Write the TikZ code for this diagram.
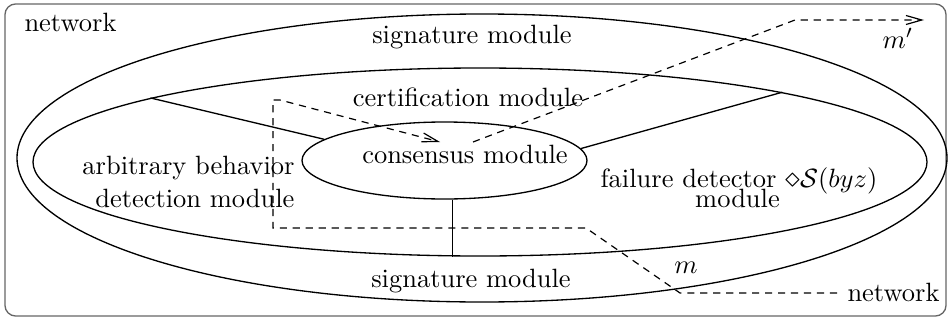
\documentclass[tikz,border=0pt]{standalone}
\usepackage{graphicx}
\usetikzlibrary{shapes.geometric,arrows.meta}
\begin{document}
\begin{tikzpicture}[x=0.378pt,y=-0.378pt,
  ell/.style={draw,ellipse,inner sep=0pt,line width=0.5pt},
  lbl/.style={inner sep=0pt,anchor=base,font=\fontsize{10}{12}\selectfont},
  msg/.style={dash pattern=on 2.7pt off 2.2pt,line width=0.45pt},
  tipbarb/.style={-{Straight Barb[length=6pt,width=3.4pt,line width=0.45pt]}},
  sep/.style={line width=0.5pt}]
\useasboundingbox (0,0) rectangle (951,320);
\draw[black!60,line width=0.5pt,rounded corners=4pt] (5,4) rectangle (946,316);
\node[ell,minimum width=930*0.378pt,minimum height=288*0.378pt] (sig) at (482,158) {};
\node[ell,minimum width=894*0.378pt,minimum height=188*0.378pt] (mid) at (480,162) {};
\node[ell,minimum width=285*0.378pt,minimum height=77*0.378pt] (cons) at (444.5,160.5) {};
\draw[sep] (cons.170.4) -- (mid.169.4);
\draw[sep] (cons.5.3) -- (mid.13.8);
\draw[sep] (cons.-78) -- (cons.-78 |- mid.south);
% labels
\node[lbl,anchor=base west] (net1) at (24,31) {network};
\node[lbl] (sigt) at (472,44) {signature module};
\node[lbl] (cert) at (468,106) {certification module};
\node[lbl] (constxt) at (465,163) {consensus module};
\node[lbl,anchor=base east] (arb1) at (295,174) {arbitrary behavior};
\node[lbl,anchor=base east] (arb2) at (295,207) {detection module};
\node[lbl] (fd1) at (739,187) {failure detector $\mathord{\scalebox{1.12}{$\diamond$}}\mathcal{S}(byz)$};
\node[lbl] (fd2) at (737.5,207) {module};
\node[lbl] (sigb) at (471,287) {signature module};
\node[lbl] (mlab) at (686,273) {$m$};
\node[lbl,anchor=base west] (mplab) at (882,48) {$m'$};
\node[lbl,anchor=base west] (net2) at (847,301) {network};
% dashed message paths
\coordinate (a1) at (586,228);
\coordinate (a2) at (680,293);
\coordinate (a3) at (837,293);
\coordinate (b0) at (273,228);
\coordinate (b1) at (273,100);
\coordinate (b2) at (280,100);
\coordinate (b3) at (440,142);
\draw[msg,tipbarb] (a3) -- (a2) -- (a1) -- (b0) -- (b1) -- (b2) -- (b3);
\coordinate (c0) at (473,142);
\coordinate (c1) at (795,20);
\coordinate (c2) at (924,20);
\draw[msg,tipbarb] (c0) -- (c1) -- (c2);
\end{tikzpicture}
\end{document}
